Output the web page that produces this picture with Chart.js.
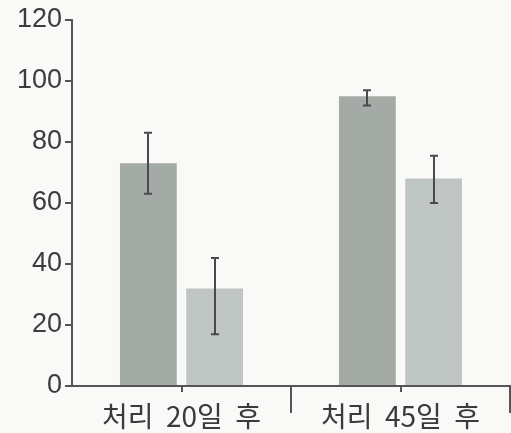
<!DOCTYPE html>
<html>
<head>
<meta charset="utf-8">
<script src="https://cdn.jsdelivr.net/npm/chart.js@4"></script>
<style>
  html, body { margin: 0; padding: 0; background: #f9f9f7; }
  #wrap { width: 511px; height: 433px; }
</style>
</head>
<body>
<div id="wrap"><canvas id="c" width="511" height="433"></canvas></div>
<script>
// Categories and series
const categories = ['처리  20일  후', '처리  45일  후'];
const seriesA = [73, 95];       // darker bars
const seriesB = [32, 68];       // lighter bars
// Error bar ends (upper / lower) per series
const seriesAHigh = [83, 97];
const seriesALow = [63, 92];
const seriesBHigh = [42, 75.5];
const seriesBLow = [17, 60];
const yTicks = [0, 20, 40, 60, 80, 100, 120];

const axisColor = '#555';
const errHigh = [seriesAHigh, seriesBHigh];
const errLow = [seriesALow, seriesBLow];

// Draws error bars over each bar and short marks at category centres
const errorBars = {
  id: 'errorBars',
  afterDatasetsDraw(chart) {
    const ctx = chart.ctx;
    const y = chart.scales.y;
    ctx.save();
    ctx.strokeStyle = '#4a4a4a';
    ctx.lineWidth = 2;
    chart.data.datasets.forEach((ds, di) => {
      const meta = chart.getDatasetMeta(di);
      meta.data.forEach((bar, i) => {
        const x = Math.round(bar.x);
        const yt = y.getPixelForValue(errHigh[di][i]);
        const yb = y.getPixelForValue(errLow[di][i]);
        ctx.beginPath();
        ctx.moveTo(x, yt); ctx.lineTo(x, yb);
        ctx.moveTo(x - 4, yt); ctx.lineTo(x + 4, yt);
        ctx.moveTo(x - 4, yb); ctx.lineTo(x + 4, yb);
        ctx.stroke();
      });
    });
    const xs = chart.scales.x;
    ctx.strokeStyle = axisColor;
    categories.forEach((c, i) => {
      const px = Math.round(xs.getPixelForValue(i));
      ctx.beginPath();
      ctx.moveTo(px, xs.top); ctx.lineTo(px, xs.top + 6);
      ctx.stroke();
    });
    ctx.restore();
  }
};

new Chart(document.getElementById('c'), {
  type: 'bar',
  data: {
    labels: categories,
    datasets: [
      { data: seriesA, backgroundColor: '#a4aba7', borderWidth: 0 },
      { data: seriesB, backgroundColor: '#bfc5c2', borderWidth: 0 }
    ]
  },
  options: {
    responsive: false,
    animation: false,
    devicePixelRatio: 1,
    layout: { padding: { top: 20, right: 1, left: 0, bottom: 0 } },
    plugins: { legend: { display: false }, tooltip: { enabled: false } },
    datasets: { bar: { categoryPercentage: 0.605, barPercentage: 0.857 } },
    scales: {
      x: {
        offset: true,
        afterFit(s) { s.height = 47; },
        border: { display: true, color: axisColor, width: 2 },
        grid: {
          offset: true,
          drawOnChartArea: false,
          drawTicks: true,
          tickLength: 27,
          lineWidth: 2,
          color: (c) => c.index === 0 ? 'rgba(0,0,0,0)' : axisColor
        },
        ticks: {
          padding: -13,
          color: '#3a3a3a',
          font: { family: '"Noto Sans CJK KR", sans-serif', size: 28 }
        }
      },
      y: {
        min: 0,
        max: 120,
        afterFit(s) { s.width = 72; },
        afterBuildTicks(s) { s.ticks = yTicks.map(v => ({ value: v })); },
        border: { display: true, color: axisColor, width: 2 },
        grid: {
          drawOnChartArea: false,
          drawTicks: true,
          tickLength: 7,
          lineWidth: 2,
          color: axisColor
        },
        ticks: {
          padding: 3,
          color: '#3c3c3c',
          font: { family: 'Arial, "Liberation Sans", sans-serif', size: 27 }
        }
      }
    }
  },
  plugins: [errorBars]
});
</script>
</body>
</html>
